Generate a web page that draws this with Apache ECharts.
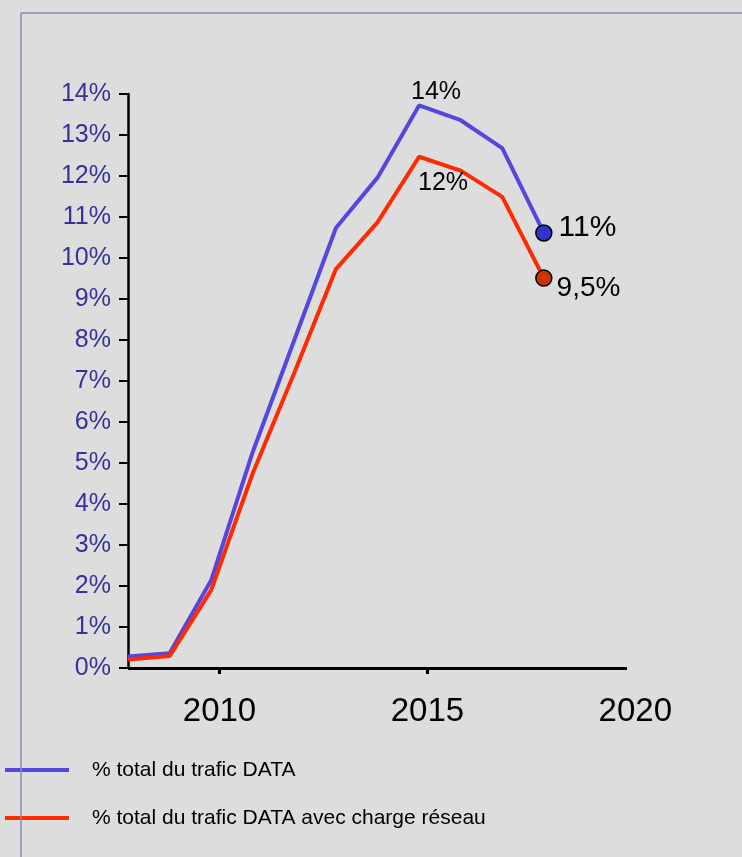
<!DOCTYPE html>
<html>
<head>
<meta charset="utf-8">
<script src="https://cdn.jsdelivr.net/npm/echarts@6/dist/echarts.min.js"></script>
<style>
html,body{margin:0;padding:0;background:#dddddd;}
#chart{width:742px;height:857px;}
</style>
</head>
<body>
<div id="chart"></div>
<script>
// ---- data ----
var years = [2007.8, 2008.8, 2009.8, 2010.8, 2011.8, 2012.8, 2013.8, 2014.8, 2015.8, 2016.8, 2017.8];
var trafficData = [0.28, 0.36, 2.14, 5.27, 8.0, 10.73, 11.96, 13.72, 13.36, 12.68, 10.61];
var trafficDataCharge = [0.21, 0.29, 1.9, 4.75, 7.2, 9.73, 10.87, 12.47, 12.13, 11.49, 9.51];
var seriesNames = ['% total du trafic DATA', '% total du trafic DATA avec charge réseau'];
var xTickValues = [2010, 2015];
var xLabelValues = [2010, 2015, 2020];
var blueLabels = { 7: '14%', 10: '11%' };
var redLabels = { 7: '12%', 10: '9,5%' };

var FONT = '"Liberation Sans", Arial, sans-serif';
var BLUE = '#5546e0', RED = '#ff2a00';

function build(vals, labels, color, endFill, peakLabelCfg, endLabelCfg) {
  return vals.map(function (v, i) {
    var item = { value: [years[i], v] };
    if (i === vals.length - 1) {
      item.symbol = 'circle';
      item.symbolSize = 16;
      item.itemStyle = { color: endFill, borderColor: '#000', borderWidth: 1.5 };
      item.label = Object.assign({ show: true, formatter: labels[i] }, endLabelCfg);
    } else if (labels[i]) {
      item.label = Object.assign({ show: true, formatter: labels[i] }, peakLabelCfg);
    }
    return item;
  });
}

var chart = echarts.init(document.getElementById('chart'), null, { renderer: 'canvas' });
chart.setOption({
  backgroundColor: '#dddddd',
  animation: false,
  textStyle: { fontFamily: FONT },
  graphic: [
    { type: 'line', shape: { x1: 21, y1: 13, x2: 742, y2: 13 }, style: { stroke: '#8c8cb0', lineWidth: 1.5 }, z: 100 },
    { type: 'line', shape: { x1: 21, y1: 13, x2: 21, y2: 857 }, style: { stroke: '#8c8cb0', lineWidth: 1.5 }, z: 100 }
  ],
  grid: { left: 128, top: 94, bottom: 189, right: 106.7, containLabel: false },
  legend: {
    orient: 'vertical',
    left: 0,
    top: 753,
    icon: 'rect',
    itemWidth: 64,
    itemHeight: 4,
    itemGap: 24,
    textStyle: { fontFamily: FONT, fontSize: 21, color: '#000', lineHeight: 24, padding: [0, 0, 0, 18] },
    data: seriesNames
  },
  xAxis: {
    type: 'value',
    min: 2007.8,
    max: 2020,
    splitLine: { show: false },
    axisLine: { show: false },
    axisTick: { show: true, customValues: xTickValues, length: 6, lineStyle: { color: '#000', width: 3 } },
    axisLabel: {
      customValues: xLabelValues, fontSize: 33, color: '#000', margin: 27, fontFamily: FONT,
      formatter: function (v) { return String(v); }
    }
  },
  yAxis: {
    type: 'value',
    min: 0,
    max: 14,
    interval: 1,
    splitLine: { show: false },
    axisLine: { show: true, lineStyle: { color: '#000', width: 2.5 } },
    axisTick: { show: true, length: 9, lineStyle: { color: '#000', width: 2 } },
    axisLabel: { formatter: '{value}%', fontSize: 25, color: '#333399', margin: 17, fontFamily: FONT }
  },
  series: [
    {
      name: seriesNames[0],
      type: 'line',
      symbol: 'circle',
      symbolSize: 1,
      showSymbol: true,
      color: BLUE,
      lineStyle: { color: BLUE, width: 4 },
      itemStyle: { color: BLUE },
      z: 3,
      data: build(trafficData, blueLabels, BLUE, '#3333cc',
        { position: 'top', distance: 5, offset: [17, 5], fontSize: 25, color: '#000', fontFamily: FONT },
        { position: 'right', distance: 5, offset: [1, -5], fontSize: 30, color: '#000', fontFamily: FONT }),
      markLine: {
        silent: true,
        symbol: 'none',
        label: { show: false },
        lineStyle: { color: '#000', width: 3, type: 'solid' },
        data: [[{ coord: [2007.8, 0] }, { coord: [2019.8, 0] }]]
      }
    },
    {
      name: seriesNames[1],
      type: 'line',
      symbol: 'circle',
      symbolSize: 1,
      showSymbol: true,
      color: RED,
      lineStyle: { color: RED, width: 4 },
      itemStyle: { color: RED },
      z: 4,
      data: build(trafficDataCharge, redLabels, RED, '#cc3300',
        { position: 'bottom', distance: 5, offset: [24, 8], fontSize: 25, color: '#000', fontFamily: FONT },
        { position: 'right', distance: 5, offset: [-1, 10], fontSize: 28, color: '#000', fontFamily: FONT })
    }
  ]
});
</script>
</body>
</html>
